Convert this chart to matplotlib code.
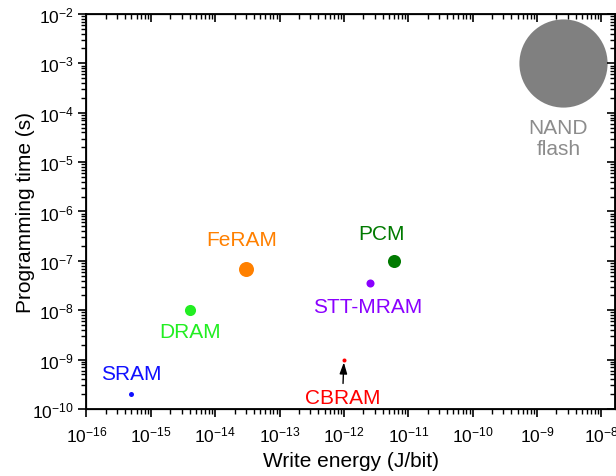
import numpy as np
import matplotlib
matplotlib.use("Agg")
import matplotlib.pyplot as plt
from matplotlib.ticker import LogLocator, NullFormatter

plt.rcParams['font.family'] = ['Liberation Sans', 'DejaVu Sans']
plt.rcParams['mathtext.fontset'] = 'custom'
plt.rcParams['mathtext.rm'] = 'Liberation Sans'
plt.rcParams['axes.unicode_minus'] = False

# memory technologies: write energy (J/bit) vs programming time (s)
devices = ['SRAM', 'DRAM', 'FeRAM', 'STT-MRAM', 'PCM', 'CBRAM', 'NAND\nflash']
write_energy = [5e-16, 4e-15, 3e-14, 2.5e-12, 6e-12, 1e-12, 2.5e-9]
prog_time = [2e-10, 1e-8, 7e-8, 3.5e-8, 1e-7, 1e-9, 1e-3]

# styling
colors = ['#1010ff', '#22ee22', '#ff8000', '#8a00ff', '#007a00', '#ff0000', '#808080']
text_colors = ['#1010ff', '#22ee22', '#ff8000', '#8a00ff', '#007a00', '#ff0000', '#8c8c8c']
marker_sizes = [3.6, 8.0, 10.8, 5.8, 9.4, 2.9, 63.5]
label_offsets = [(0, 15), (0, -15), (-3, 21), (-1, -17), (-9, 20), (-1, -27), (-3, -54)]

fig = plt.figure(figsize=(6.16, 4.77), dpi=100)
ax = fig.add_axes([0.1404, 0.1405, 0.9984 - 0.1404, 0.9686 - 0.1405])

for i, name in enumerate(devices):
    ax.plot(write_energy[i], prog_time[i], 'o', color=colors[i],
            markersize=marker_sizes[i], markeredgewidth=0, zorder=3)
    if name == 'CBRAM':
        ax.annotate(name, xy=(write_energy[i], prog_time[i]),
                    xytext=label_offsets[i], textcoords='offset points',
                    ha='center', va='center', fontsize=15, color=text_colors[i],
                    arrowprops=dict(arrowstyle='-|>,head_length=0.45,head_width=0.15',
                                    color='black', lw=1.0, shrinkA=1, shrinkB=2))
    else:
        ax.annotate(name, xy=(write_energy[i], prog_time[i]),
                    xytext=label_offsets[i], textcoords='offset points',
                    ha='center', va='center', fontsize=15, color=text_colors[i],
                    linespacing=1.15)

ax.set_xscale('log')
ax.set_yscale('log')
ax.set_xlim(1e-16, 1.63e-8)
ax.set_ylim(1e-10, 1e-2)

for axis in (ax.xaxis, ax.yaxis):
    axis.set_major_locator(LogLocator(base=10, numticks=20))
    axis.set_minor_locator(LogLocator(base=10, subs=np.arange(2, 10), numticks=20))
    axis.set_minor_formatter(NullFormatter())

ax.tick_params(which='major', direction='out', length=6, width=1.2, labelsize=12.5, pad=3)
ax.tick_params(axis='x', which='major', pad=5)
ax.tick_params(which='minor', direction='out', length=3.5, width=1.0)
for s in ax.spines.values():
    s.set_linewidth(1.3)

ax.set_xlabel('Write energy (J/bit)', fontsize=15, labelpad=5)
ax.set_ylabel('Programming time (s)', fontsize=15)
ax.yaxis.set_label_coords(-0.098, 0.5)

# mirrored top/right axes with inward ticks, no labels
top = ax.twiny()
top.set_xscale('log')
top.set_xlim(ax.get_xlim())
top.xaxis.set_major_locator(LogLocator(base=10, numticks=20))
top.xaxis.set_minor_locator(LogLocator(base=10, subs=np.arange(2, 10), numticks=20))
top.tick_params(axis='x', which='major', direction='in', length=6, width=1.2, labeltop=False)
top.tick_params(axis='x', which='minor', direction='in', length=3.5, width=1.0)

right = ax.twinx()
right.set_yscale('log')
right.set_ylim(ax.get_ylim())
right.yaxis.set_major_locator(LogLocator(base=10, numticks=20))
right.yaxis.set_minor_locator(LogLocator(base=10, subs=np.arange(2, 10), numticks=20))
right.tick_params(axis='y', which='major', direction='in', length=6, width=1.2, labelright=False)
right.tick_params(axis='y', which='minor', direction='in', length=3.5, width=1.0)

fig.savefig('out.png', dpi=100)
